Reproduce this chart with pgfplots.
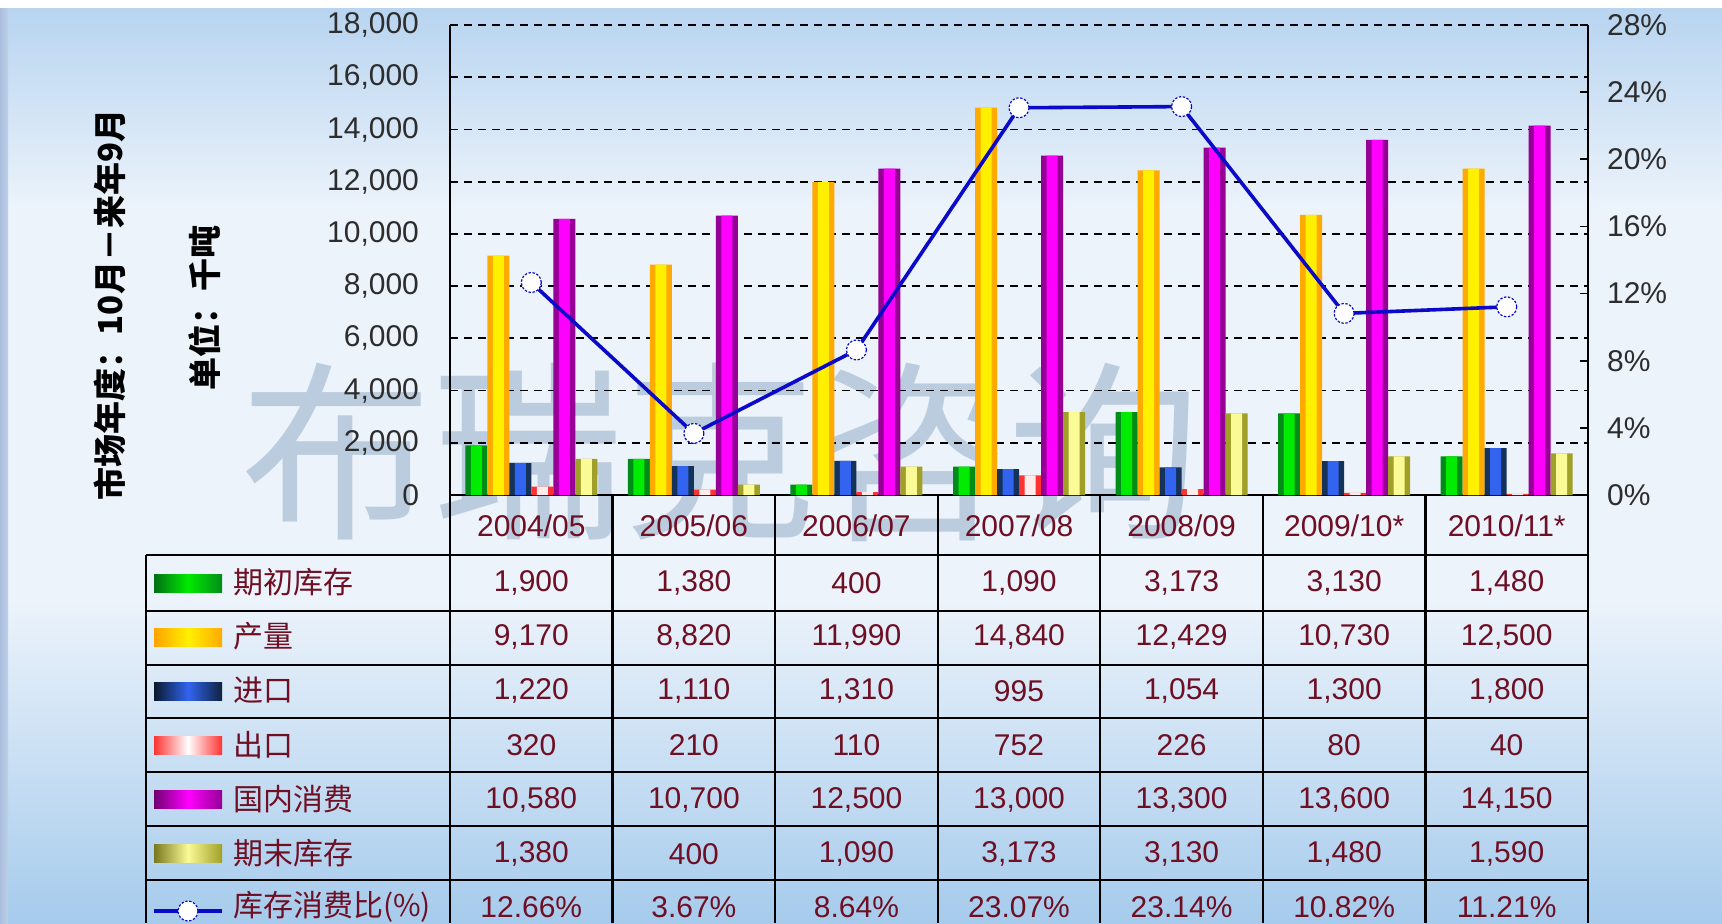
\documentclass[border=0pt]{standalone}
\usepackage{pgfplots}
\pgfplotsset{compat=1.18}
\usepackage{pgfplotstable}
\usepackage{fontspec}
\setmainfont{Liberation Sans}
\newfontfamily\cjk{Noto Sans CJK SC}

\definecolor{tabred}{RGB}{110,15,35}
\definecolor{ticktxt}{RGB}{45,45,45}
\definecolor{lineblue}{RGB}{10,10,200}
\definecolor{wmark}{RGB}{178,198,218}
\definecolor{bgtop}{RGB}{184,212,240}
\definecolor{bgmid}{RGB}{236,243,251}
\definecolor{bgbot}{RGB}{166,203,236}

\definecolor{gEdge}{RGB}{0,140,25}   \definecolor{gMid}{RGB}{0,235,0}
\definecolor{yEdge}{RGB}{255,170,0}  \definecolor{yMid}{RGB}{255,240,0}
\definecolor{bEdge}{RGB}{20,50,90}   \definecolor{bMid}{RGB}{50,100,240}
\definecolor{rEdge}{RGB}{255,50,50}  \definecolor{rMid}{RGB}{255,235,235}
\definecolor{mEdge}{RGB}{150,0,150}  \definecolor{mMid}{RGB}{255,0,255}
\definecolor{kEdge}{RGB}{160,160,40} \definecolor{kMid}{RGB}{250,250,150}

% market years 2004/05 ... 2010/11, thousand tonnes
\pgfplotstableread{
x open prod imp exp cons close ratio
0 1900 9170 1220 320 10580 1380 12.66
1 1380 8820 1110 210 10700 400 3.67
2 400 11990 1310 110 12500 1090 8.64
3 1090 14840 995 752 13000 3173 23.07
4 3173 12429 1054 226 13300 3130 23.14
5 3130 10730 1300 80 13600 1480 10.82
6 1480 12500 1800 40 14150 1590 11.21
}\datatable

\pgfkeys{/pgf/number format/assume math mode=true}
\pgfplotsset{
  base/.style={ybar, draw=none, bar width=11pt, bar shift=#1},
  glow/.style={ybar, draw=none, bar width=5.5pt, bar shift=#1},
}

\begin{document}
\begin{tikzpicture}
\path[use as bounding box] (0pt,0pt) rectangle (861pt,-461.5pt);
\begin{scope}[x=0.5pt,y=-0.5pt]
  \fill[white] (0,0) rectangle (1722,923);
  \shade[top color=bgtop, bottom color=bgmid] (8,8) rectangle (1722,210);
  \fill[bgmid] (8,209) rectangle (1722,600);
  \shade[top color=bgmid, bottom color=bgbot] (8,599) rectangle (1722,923);
  \shade[left color={rgb,255:red,170;green,190;blue,222}, right color={rgb,255:red,190;green,208;blue,232}] (0,8) rectangle (8,923);
  % watermark
  \node[font=\cjk\fontsize{96}{96}\selectfont, text=wmark, opacity=0.85] at (720,452) {布瑞克咨询};
  % side labels
  \node[rotate=90, font=\cjk\bfseries\fontsize{16.5}{18}\selectfont] at (110,305) {市场年度：10月－来年9月};
  \node[rotate=90, font=\cjk\bfseries\fontsize{16.5}{18}\selectfont] at (205,308) {单位：千吨};
\end{scope}

\begin{axis}[
  at={(225pt,-247.5pt)}, anchor=south west,
  width=569pt, height=235pt, scale only axis,
  xmin=-0.5, xmax=6.5, ymin=0, ymax=18000,
  xtick=\empty,
  ytick={0,2000,...,18000},
  axis x line*=bottom, axis y line*=left,
  axis line style={-, black, line width=1pt},
  ymajorgrids,
  grid style={black, line width=0.9pt, dash pattern=on 4pt off 3pt},
  tick align=inside, major tick length=4pt,
  tick style={black, line width=0.9pt},
  scaled y ticks=false,
  yticklabel style={font=\fontsize{15}{18}\selectfont, text=ticktxt, xshift=-12pt,
    /pgf/number format/1000 sep={,}},
]
  \addplot[base=-27.5pt, fill=gEdge] table[x=x,y=open]{\datatable};
  \addplot[glow=-27.5pt, fill=gMid] table[x=x,y=open]{\datatable};
  \addplot[base=-16.5pt, fill=yEdge] table[x=x,y=prod]{\datatable};
  \addplot[glow=-16.5pt, fill=yMid] table[x=x,y=prod]{\datatable};
  \addplot[base=-5.5pt, fill=bEdge] table[x=x,y=imp]{\datatable};
  \addplot[glow=-5.5pt, fill=bMid] table[x=x,y=imp]{\datatable};
  \addplot[base=5.5pt, fill=rEdge] table[x=x,y=exp]{\datatable};
  \addplot[glow=5.5pt, fill=rMid] table[x=x,y=exp]{\datatable};
  \addplot[base=16.5pt, fill=mEdge] table[x=x,y=cons]{\datatable};
  \addplot[glow=16.5pt, fill=mMid] table[x=x,y=cons]{\datatable};
  \addplot[base=27.5pt, fill=kEdge] table[x=x,y=close]{\datatable};
  \addplot[glow=27.5pt, fill=kMid] table[x=x,y=close]{\datatable};
\end{axis}

\begin{axis}[
  at={(225pt,-247.5pt)}, anchor=south west,
  width=569pt, height=235pt, scale only axis,
  xmin=-0.5, xmax=6.5, ymin=0, ymax=28,
  axis x line=none, axis y line*=right,
  axis line style={-, black, line width=1pt},
  ytick={0,4,...,28},
  tick align=inside, major tick length=4pt,
  tick style={black, line width=0.9pt},
  yticklabel={\pgfmathprintnumber{\tick}\%},
  yticklabel style={font=\fontsize{15}{18}\selectfont, text=ticktxt, xshift=6pt},
  clip=false,
]
  \addplot[lineblue, line width=1.8pt, mark=*, mark size=5pt,
    mark options={fill=white, draw=lineblue, line width=0.6pt, dash pattern=on 1.2pt off 0.8pt}]
    table[x=x,y=ratio]{\datatable};
\end{axis}

\begin{scope}[x=0.5pt,y=-0.5pt]
  % table grid
  \foreach \yy in {555,611,665,718,772,826,880} \draw[line width=1.2pt] (146,\yy) -- (1588,\yy);
  \draw[line width=1.2pt] (146,555) -- (146,923);
  \foreach \i in {0,...,7} \draw[line width=1.2pt] ({450+\i*162.57},495) -- ({450+\i*162.57},923);
  % header
  \foreach \lab [count=\i from 0] in {2004/05,2005/06,2006/07,2007/08,2008/09,2009/10*,2010/11*}
    \node[text=tabred, font=\fontsize{15}{18}\selectfont] at ({531.3+\i*162.57},526) {\lab};
  % numbers
  \foreach \col [count=\r from 0] in {open,prod,imp,exp,cons,close} {
    \foreach \i in {0,...,6} {
      \pgfplotstablegetelem{\i}{\col}\of{\datatable}
      \node[text=tabred, font=\fontsize{15}{18}\selectfont] at ({531.3+\i*162.57},{583+\r*54.2})
        {\pgfmathprintnumber[1000 sep={,}]{\pgfplotsretval}};
    }
  }
  \foreach \i in {0,...,6} {
    \pgfplotstablegetelem{\i}{ratio}\of{\datatable}
    \node[text=tabred, font=\fontsize{15}{18}\selectfont] at ({531.3+\i*162.57},907)
      {\pgfmathprintnumber[fixed, fixed zerofill, precision=2]{\pgfplotsretval}\%};
  }
  % row labels with swatches
  \foreach \lab [count=\r from 0] in {期初库存,产量,进口,出口,国内消费,期末库存}
    \node[anchor=west, text=tabred, font=\cjk\fontsize{15}{18}\selectfont] at (226,{582+\r*54.2}) {\lab};
  \shade[left color=gEdge!80!black, right color=gEdge, middle color=gMid] (154,574) rectangle (222,592);
  \shade[left color=yEdge!95!red, right color=yEdge, middle color=yMid] (154,628) rectangle (222,646);
  \shade[left color=bEdge!50!black, right color=bEdge!70!black, middle color=bMid] (154,682) rectangle (222,700);
  \shade[left color=rEdge, right color=rEdge, middle color=white] (154,736) rectangle (222,754);
  \shade[left color=mEdge!75!black, right color=mEdge, middle color=mMid] (154,790) rectangle (222,808);
  \shade[left color=kEdge!75!black, right color=kEdge, middle color=kMid] (154,844) rectangle (222,862);
  \draw[lineblue, line width=1.8pt] (154,911) -- (222,911);
  \draw[fill=white, draw=lineblue, line width=0.6pt, dash pattern=on 1.2pt off 0.8pt] (188,911) circle (5pt);
  \node[anchor=west, text=tabred, font=\cjk\fontsize{15}{18}\selectfont] at (226,907) {库存消费比(\%)};
\end{scope}
\end{tikzpicture}
\end{document}
